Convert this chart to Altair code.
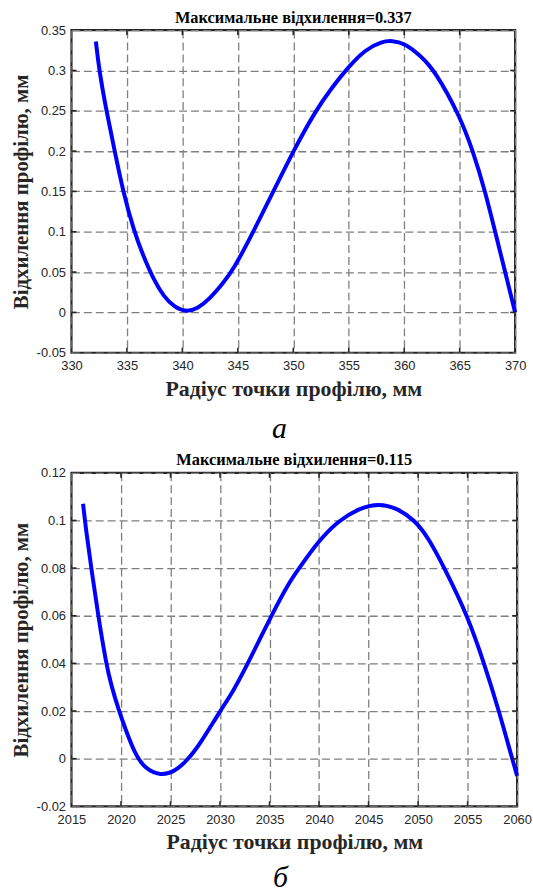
import altair as alt
import pandas as pd

# ---- panel а ----
a_x = [332.2, 332.5, 333.15, 333.9, 334.65, 335.65, 336.5, 337.4, 338.3, 339.3,
       340.4, 341.4, 342.4, 343.6, 344.6, 346.4, 348.2, 350.0, 352.0, 353.5,
       355.0, 356.5, 358.0, 358.9, 360.0, 361.5, 362.75, 365.0, 366.2, 367.3,
       368.2, 369.1, 370.0]
a_y = [0.336, 0.30, 0.25, 0.20, 0.15, 0.10, 0.069, 0.041, 0.020, 0.006,
       0.0005, 0.005, 0.016, 0.035, 0.053, 0.10, 0.15, 0.20, 0.25, 0.279,
       0.305, 0.326, 0.336, 0.337, 0.334, 0.318, 0.30, 0.244, 0.20, 0.15,
       0.10, 0.05, 0.0]
a_xticks = [330, 335, 340, 345, 350, 355, 360, 365, 370]
a_yticks = [-0.05, 0, 0.05, 0.1, 0.15, 0.2, 0.25, 0.3, 0.35]
a_title = "Максимальне відхилення=0.337"
a_caption = "а"

# ---- panel б ----
b_x = [2016.17, 2016.5, 2017.0, 2017.7, 2018.5, 2019.0, 2019.8, 2020.4, 2021.4,
       2022.4, 2024.0, 2025.4, 2026.7, 2028.0, 2030.0, 2031.3, 2032.83, 2035.17,
       2037.0, 2038.0, 2040.0, 2042.0, 2044.0, 2046.0, 2048.0, 2049.67, 2051.0,
       2052.67, 2055.0, 2056.67, 2058.17, 2059.5, 2060.0]
b_y = [0.107, 0.095, 0.08, 0.06, 0.04, 0.031, 0.02, 0.013, 0.002,
       -0.0041, -0.0072, -0.0055, -0.0007, 0.0062, 0.02, 0.028, 0.04, 0.06,
       0.0742, 0.08, 0.0917, 0.100, 0.105, 0.1073, 0.105, 0.100, 0.093,
       0.08, 0.06, 0.04, 0.02, 0.0, -0.0072]
b_xticks = [2015, 2020, 2025, 2030, 2035, 2040, 2045, 2050, 2055, 2060]
b_yticks = [-0.02, 0, 0.02, 0.04, 0.06, 0.08, 0.1, 0.12]
b_title = "Максимальне відхилення=0.115"
b_caption = "б"

x_label = "Радіус точки профілю, мм"
y_label = "Відхилення профілю, мм"

TXT = "#262626"
SERIF = "Liberation Serif"
SANS = "Liberation Sans"


def panel(xs, ys, xticks, yticks, title, caption, W, H, cap_dy):
    df = pd.DataFrame({"r": xs, "d": ys})
    xdom = [xticks[0], xticks[-1]]
    ydom = [yticks[0], yticks[-1]]
    xs_ = alt.Scale(domain=xdom, nice=False, zero=False)
    ys_ = alt.Scale(domain=ydom, nice=False, zero=False)
    lab = "'' + datum.value"
    common = dict(labelExpr=lab, grid=True, gridDash=[8, 4], gridColor="#7f7f7f",
                  gridWidth=1.3, ticks=False, domain=False, labelFont=SANS,
                  labelFontSize=13, labelColor=TXT, labelFlush=False,
                  titleFont=SERIF, titleFontWeight="bold", titleColor=TXT)
    xaxis = alt.Axis(values=xticks, title=x_label, labelPadding=7,
                     titlePadding=6, titleFontSize=22, **common)
    yaxis = alt.Axis(values=yticks, title=y_label, labelPadding=6,
                     titlePadding=5, titleFontSize=21, **common)
    line = alt.Chart(df).mark_line(color="#0000ff", strokeWidth=4,
                                   interpolate="basis").encode(
        x=alt.X("r:Q", scale=xs_, axis=xaxis),
        y=alt.Y("d:Q", scale=ys_, axis=yaxis),
    )
    xt = pd.DataFrame({"r": xticks[1:-1]})
    yt = pd.DataFrame({"d": yticks[1:-1]})
    tk = dict(color=TXT, strokeWidth=1.6)
    t_top = alt.Chart(xt).mark_rule(**tk).encode(
        x=alt.X("r:Q", scale=xs_, axis=xaxis), y=alt.value(0), y2=alt.value(5))
    t_bot = alt.Chart(xt).mark_rule(**tk).encode(
        x=alt.X("r:Q", scale=xs_, axis=xaxis), y=alt.value(H - 5), y2=alt.value(H))
    t_left = alt.Chart(yt).mark_rule(**tk).encode(
        y=alt.Y("d:Q", scale=ys_, axis=yaxis), x=alt.value(0), x2=alt.value(5))
    t_right = alt.Chart(yt).mark_rule(**tk).encode(
        y=alt.Y("d:Q", scale=ys_, axis=yaxis), x=alt.value(W - 5), x2=alt.value(W))
    cap = alt.Chart(pd.DataFrame({"c": [caption]})).mark_text(
        font=SERIF, fontStyle="italic", fontSize=30, color="#000",
        baseline="alphabetic", align="center").encode(
        text="c:N", x=alt.value(W / 2 - 14), y=alt.value(H + cap_dy))
    return alt.layer(line, t_top, t_bot, t_left, t_right, cap).properties(
        width=W, height=H,
        title=alt.TitleParams(title, font=SERIF, fontSize=16.5, fontWeight="bold",
                              color="#000", offset=-2, anchor="middle",
                              frame="group"),
    )


top = panel(a_x, a_y, a_xticks, a_yticks, a_title, a_caption, 447, 325, 86)
bot = panel(b_x, b_y, b_xticks, b_yticks, b_title, b_caption, 449, 336, 81)

chart = alt.vconcat(top, bot, spacing=5).configure(
    background="white",
    padding={"left": 9, "top": 5, "right": 0, "bottom": 0},
).configure_view(stroke=TXT, strokeWidth=2.2)

chart.save("out.html", embed_options={"renderer": "svg", "actions": False})
